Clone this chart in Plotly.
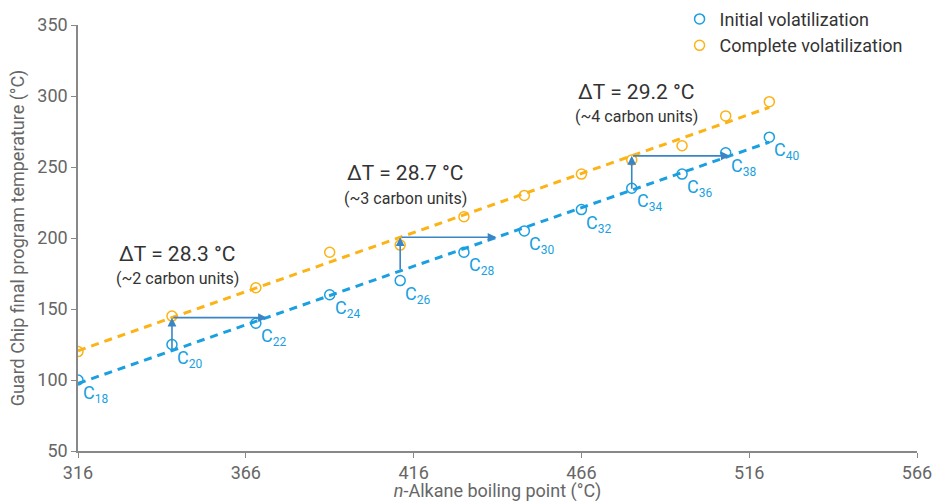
import numpy as np
import plotly.graph_objects as go

# Data
carbons = [18, 20, 22, 24, 26, 28, 30, 32, 34, 36, 38, 40]
boiling_pt = [316, 344, 369, 391, 412, 431, 449, 466, 481, 496, 509, 522]
initial_vol = [100, 125, 140, 160, 170, 190, 205, 220, 235, 245, 260, 271]
complete_vol = [120, 145, 165, 190, 195, 215, 230, 245, 255, 265, 286, 296]

delta_x = [344, 412, 481]
delta_T = [28.3, 28.7, 29.2]
delta_units = [2, 3, 4]

x_ticks = [316, 366, 416, 466, 516, 566]
y_ticks = [50, 100, 150, 200, 250, 300, 350]

BLUE = "#1a9fe0"
ORANGE = "#fbb316"
ARROW = "#3a85c6"
FONT = "Roboto"

xb = np.array(boiling_pt, dtype=float)
pi = np.polyfit(xb, initial_vol, 1)
pc = np.polyfit(xb, complete_vol, 1)
xl = np.array([xb.min(), xb.max()])

fig = go.Figure()
fig.add_trace(go.Scatter(x=xl, y=np.polyval(pi, xl), mode="lines",
                         line=dict(color=BLUE, width=3, dash="8px,6px"),
                         showlegend=False, hoverinfo="skip"))
fig.add_trace(go.Scatter(x=xl, y=np.polyval(pc, xl), mode="lines",
                         line=dict(color=ORANGE, width=3, dash="8px,6px"),
                         showlegend=False, hoverinfo="skip"))
fig.add_trace(go.Scatter(x=boiling_pt, y=initial_vol, mode="markers",
                         name="Initial volatilization",
                         marker=dict(symbol="circle-open", size=10, color=BLUE,
                                     line=dict(width=1.5, color=BLUE))))
fig.add_trace(go.Scatter(x=boiling_pt, y=complete_vol, mode="markers",
                         name="Complete volatilization",
                         marker=dict(symbol="circle-open", size=10, color=ORANGE,
                                     line=dict(width=1.5, color=ORANGE))))

annotations = []
# carbon labels
for c, x, y in zip(carbons, boiling_pt, initial_vol):
    annotations.append(dict(x=x, y=y, xref="x", yref="y",
                            text=f"C<sub><span style='font-size:12px'>{c}</span></sub>",
                            showarrow=False, xanchor="left", yanchor="middle",
                            xshift=3, yshift=-14,
                            font=dict(family=FONT, size=18, color=BLUE)))

# arrows and delta labels
for x0, dT, n in zip(delta_x, delta_T, delta_units):
    yb = float(np.polyval(pi, x0))
    yc = float(np.polyval(pc, x0))
    annotations.append(dict(x=x0, y=yc, ax=x0, ay=yb, xref="x", yref="y",
                            axref="x", ayref="y", showarrow=True, text="",
                            arrowhead=2, arrowsize=1.1, arrowwidth=1.6, arrowcolor=ARROW))
    annotations.append(dict(x=x0 + dT, y=yc, ax=x0, ay=yc, xref="x", yref="y",
                            axref="x", ayref="y", showarrow=True, text="",
                            arrowhead=2, arrowsize=1.1, arrowwidth=1.6, arrowcolor=ARROW))
    annotations.append(dict(x=x0 + 1.5, y=yc + 45, xref="x", yref="y",
                            text=f"ΔT = {dT} °C", showarrow=False,
                            font=dict(family=FONT, size=21, color="#333333")))
    annotations.append(dict(x=x0 + 1.5, y=yc + 27.5, xref="x", yref="y",
                            text=f"(~{n} carbon units)", showarrow=False,
                            font=dict(family=FONT, size=16, color="#333333")))

fig.update_layout(
    width=937, height=502,
    margin=dict(l=78, r=20, t=25, b=51, autoexpand=False),
    plot_bgcolor="white", paper_bgcolor="white",
    font=dict(family=FONT, size=18, color="#666666"),
    annotations=annotations,
    legend=dict(x=0.717, y=1.057, xanchor="left", yanchor="top",
                font=dict(family=FONT, size=18, color="#333333"),
                bgcolor="rgba(0,0,0,0)", itemwidth=30, tracegroupgap=0),
    xaxis=dict(range=[316, 566], tickvals=x_ticks, showgrid=False, zeroline=False,
               showline=True, linecolor="#888888", linewidth=1.5, automargin=False,
               ticks="outside", ticklen=5, tickcolor="#888888",
               tickfont=dict(size=18, color="#666666"),
               title=dict(text="<i>n</i>-Alkane boiling point (°C)", standoff=5,
                          font=dict(size=18, color="#666666"))),
    yaxis=dict(range=[50, 350], tickvals=y_ticks, showgrid=False, zeroline=False,
               showline=True, linecolor="#888888", linewidth=1.5, automargin=False,
               ticks="outside", ticklen=5, tickcolor="#888888",
               tickfont=dict(size=18, color="#666666"),
               title=dict(text="Guard Chip final program temperature (°C)", standoff=8,
                          font=dict(size=18, color="#666666"))),
)

fig.write_html("out.html", config={"displayModeBar": False},
               post_script="document.body.style.margin='0';")
